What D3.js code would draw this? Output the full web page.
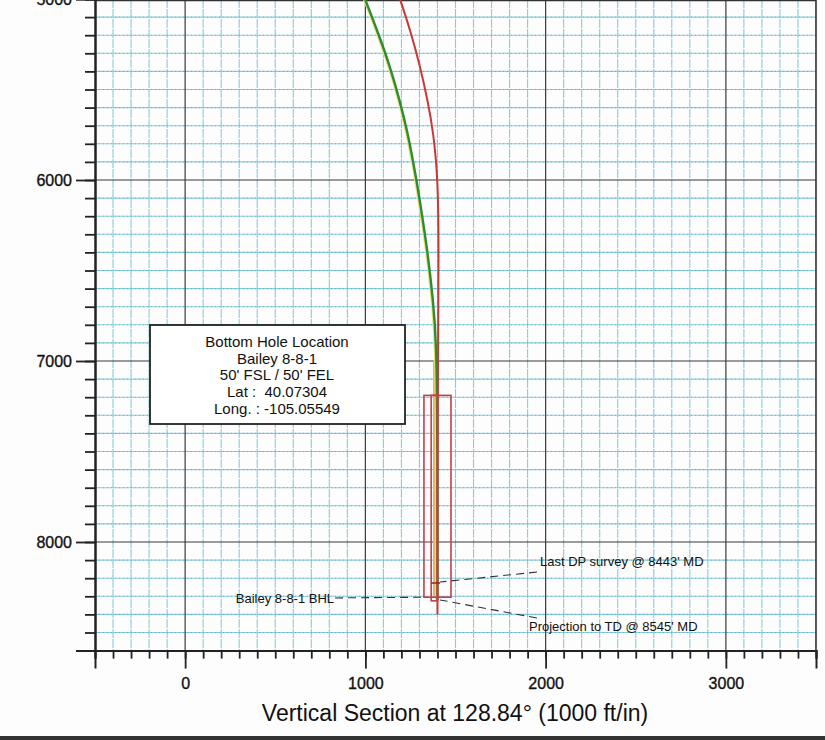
<!DOCTYPE html>
<html>
<head>
<meta charset="utf-8">
<script src="https://cdn.jsdelivr.net/npm/d3@7"></script>
<style>
  body { margin: 0; background: #fff; }
  svg { display: block; font-family: "Liberation Sans", Arial, sans-serif; }
</style>
</head>
<body>
<div id="chart"></div>
<script>
var width = 825;
var height = 740;

// well path data (vertical section ft, TVD ft)
var greenVS  = [998, 1070, 1136, 1190, 1235, 1270, 1284, 1345, 1375, 1395, 1400, 1400];
var greenTVD = [5000, 5185, 5370, 5558, 5740, 5928, 6000, 6387, 6663, 6884, 7500, 8320];
var redVS    = [1192, 1253, 1303, 1345, 1378, 1403, 1407, 1403, 1400, 1400];
var redTVD   = [5000, 5185, 5370, 5558, 5740, 6000, 6387, 7000, 7800, 8400];
var orangeVS  = [1382, 1382];
var orangeTVD = [7000, 8310];

// target boxes (vs0, vs1, tvd0, tvd1)
var outerBox = [1325, 1475, 7190, 8305];
var innerBox = [1365, 1400, 7190, 8325];

var xTicks = [0, 1000, 2000, 3000];
var yTicks = [5000, 6000, 7000, 8000];

var infoLines = ["Bottom Hole Location", "Bailey 8-8-1", "50' FSL / 50' FEL", "Lat :  40.07304", "Long. : -105.05549"];

// leader labels: text, point on label side, point on well side
var leaders = [
  { text: "Bailey 8-8-1 BHL", lx: 832, ly: 8309, wx: 1325, wy: 8305, side: "left" },
  { text: "Last DP survey @ 8443' MD", lx: 1952, ly: 8166, wx: 1414, wy: 8221, side: "right", ty: 8110, dx: 3 },
  { text: "Projection to TD @ 8545' MD", lx: 1952, ly: 8420, wx: 1414, wy: 8320, side: "right", ty: 8470, dx: -8 }
];

var x = d3.scaleLinear().domain([-500, 3500]).range([95, 816]);
var y = d3.scaleLinear().domain([5000, 8600]).range([-1, 650.6]);

var svg = d3.select("#chart").append("svg")
  .attr("width", width)
  .attr("height", height);

svg.append("rect").attr("width", width).attr("height", height).attr("fill", "#fdfdfd");

svg.append("clipPath").attr("id", "plotclip")
  .append("rect")
  .attr("x", x(-500)).attr("y", y(5000) - 2)
  .attr("width", x(3500) - x(-500)).attr("height", y(8600) - y(5000) + 2);

var grid = svg.append("g").attr("clip-path", "url(#plotclip)");

// minor grid every 100 ft
grid.selectAll(".vminor")
  .data(d3.range(-500, 3501, 100).filter(d => d % 1000 != 0))
  .enter().append("line")
  .attr("x1", d => x(d)).attr("x2", d => x(d))
  .attr("y1", y(5000)).attr("y2", y(8600))
  .attr("stroke", "#84cddc").attr("stroke-width", 1.1)
  .attr("stroke-dasharray", "9,1");

grid.selectAll(".hminor")
  .data(d3.range(5000, 8601, 100).filter(d => d % 1000 != 0))
  .enter().append("line")
  .attr("x1", x(-500)).attr("x2", x(3500))
  .attr("y1", d => y(d)).attr("y2", d => y(d))
  .attr("stroke", "#84cddc").attr("stroke-width", 1.1);

grid.selectAll(".hdots")
  .data(d3.range(5000, 8601, 100).filter(d => d % 1000 != 0))
  .enter().append("line")
  .attr("x1", x(-500)).attr("x2", x(3500))
  .attr("y1", d => y(d)).attr("y2", d => y(d))
  .attr("stroke", "#6a8c96").attr("stroke-width", 1)
  .attr("stroke-opacity", 0.55)
  .attr("stroke-dasharray", "1,3");

// major grid every 1000 ft
grid.selectAll(".vmajor")
  .data(xTicks)
  .enter().append("line")
  .attr("x1", d => x(d)).attr("x2", d => x(d))
  .attr("y1", y(5000)).attr("y2", y(8600))
  .attr("stroke", "#3a3a3a").attr("stroke-width", 1.2);

grid.selectAll(".hmajor")
  .data(yTicks)
  .enter().append("line")
  .attr("x1", x(-500)).attr("x2", x(3500))
  .attr("y1", d => y(d)).attr("y2", d => y(d))
  .attr("stroke", "#3a3a3a").attr("stroke-width", 1.2);

// plot frame
svg.append("line").attr("x1", x(3500)).attr("x2", x(3500)).attr("y1", 0).attr("y2", y(8600))
  .attr("stroke", "#333").attr("stroke-width", 1.6);
svg.append("line").attr("x1", x(-500)).attr("x2", x(3500)).attr("y1", 0.5).attr("y2", 0.5)
  .attr("stroke", "#333").attr("stroke-width", 1.5);

// axes
var yMinor = d3.axisLeft(y).tickValues(d3.range(5000, 8601, 100)).tickSize(10).tickFormat("");
var yMajor = d3.axisLeft(y).tickValues(yTicks).tickSize(19).tickPadding(4).tickFormat(d3.format("d"));
var xMinor = d3.axisBottom(x).tickValues(d3.range(-500, 3501, 100)).tickSize(8).tickFormat("");
var xMajor = d3.axisBottom(x).tickValues(xTicks).tickSize(18).tickPadding(9).tickFormat(d3.format("d"));

function styleAxis(g) {
  g.selectAll("path").attr("stroke", "#222").attr("stroke-width", 2);
  g.selectAll("line").attr("stroke", "#222").attr("stroke-width", 1.8);
  g.selectAll("text").attr("fill", "#111").attr("font-size", "16px")
    .attr("stroke", "#111").attr("stroke-width", 0.35)
    .attr("font-family", "'Liberation Sans', Arial, sans-serif");
}

svg.append("g").attr("transform", "translate(" + x(-500) + ",0)").call(yMinor).call(styleAxis);
svg.append("g").attr("transform", "translate(" + x(-500) + ",0)").call(yMajor).call(styleAxis);
svg.append("g").attr("transform", "translate(0," + y(8600) + ")").call(xMinor).call(styleAxis);
svg.append("g").attr("transform", "translate(0," + y(8600) + ")").call(xMajor).call(styleAxis);

svg.append("text")
  .attr("x", 455)
  .attr("y", 721)
  .attr("text-anchor", "middle")
  .attr("font-size", "23px")
  .attr("fill", "#111")
  .text("Vertical Section at 128.84° (1000 ft/in)");

// well paths
var plot = svg.append("g").attr("clip-path", "url(#plotclip)");

var line = d3.line()
  .x(d => x(d[0]))
  .y(d => y(d[1]))
  .curve(d3.curveBasis);

plot.append("path")
  .datum(orangeVS.map((v, i) => [v, orangeTVD[i]]))
  .attr("d", line)
  .attr("fill", "none").attr("stroke", "#f0b060").attr("stroke-width", 2.5);

plot.append("path")
  .datum(greenVS.map((v, i) => [v, greenTVD[i]]))
  .attr("d", line)
  .attr("transform", "translate(-1,0)")
  .attr("fill", "none").attr("stroke", "#e6e27a").attr("stroke-width", 2.5);

plot.append("path")
  .datum(greenVS.map((v, i) => [v, greenTVD[i]]))
  .attr("d", line)
  .attr("fill", "none").attr("stroke", "#2f8a35").attr("stroke-width", 2.4);

plot.append("path")
  .datum(redVS.map((v, i) => [v, redTVD[i]]))
  .attr("d", line)
  .attr("fill", "none").attr("stroke", "#c8383a").attr("stroke-width", 2);

// target boxes
[outerBox, innerBox].forEach(function (b) {
  plot.append("rect")
    .attr("x", x(b[0])).attr("y", y(b[2]))
    .attr("width", x(b[1]) - x(b[0])).attr("height", y(b[3]) - y(b[2]))
    .attr("fill", "none").attr("stroke", "#c0404a").attr("stroke-width", 1.6);
});

// last survey tick
plot.append("line")
  .attr("x1", x(1365)).attr("x2", x(1414))
  .attr("y1", y(8227)).attr("y2", y(8227))
  .attr("stroke", "#8a2a2a").attr("stroke-width", 1.5);

// leader lines and labels
leaders.forEach(function (d) {
  svg.append("line")
    .attr("x1", x(d.lx)).attr("y1", y(d.ly))
    .attr("x2", x(d.wx)).attr("y2", y(d.wy))
    .attr("stroke", "#333").attr("stroke-width", 1.1)
    .attr("stroke-dasharray", "8,5");
  var t = svg.append("text")
    .attr("font-size", "13px")
    .attr("fill", "#111")
    .text(d.text);
  if (d.side == "left") {
    t.attr("x", x(d.lx) - 1).attr("y", y(d.ly) + 5).attr("text-anchor", "end");
  } else {
    t.attr("x", x(d.lx) + d.dx).attr("y", y(d.ty) + 4).attr("text-anchor", "start");
  }
});

// info box
var box = svg.append("g");
box.append("rect")
  .attr("x", 150).attr("y", 325)
  .attr("width", 255).attr("height", 99)
  .attr("fill", "#fff").attr("stroke", "#222").attr("stroke-width", 1.8);
box.selectAll("text")
  .data(infoLines)
  .enter().append("text")
  .attr("x", 277)
  .attr("y", (d, i) => 347 + i * 16.7)
  .attr("text-anchor", "middle")
  .attr("font-size", "15px")
  .attr("fill", "#111")
  .style("white-space", "pre")
  .text(d => d);

// scanner edge at the bottom
svg.append("rect").attr("x", 0).attr("y", 736).attr("width", width).attr("height", 4).attr("fill", "#333");
</script>
</body>
</html>
